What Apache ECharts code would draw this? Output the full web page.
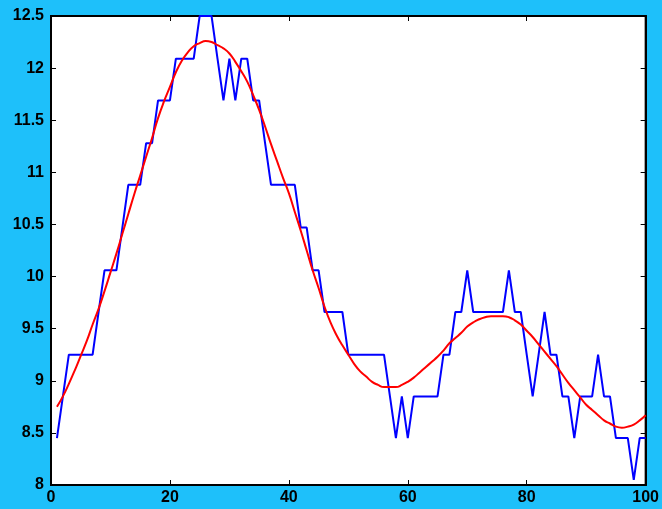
<!DOCTYPE html>
<html>
<head>
<meta charset="utf-8">
<script src="https://cdn.jsdelivr.net/npm/echarts@6/dist/echarts.min.js"></script>
<style>
html,body{margin:0;padding:0;background:#1EC0FA;}
#c{width:662px;height:509px;}
</style>
</head>
<body>
<div id="c"></div>
<script>
var xValues = [1,2,3,4,5,6,7,8,9,10,11,12,13,14,15,16,17,18,19,20,
21,22,23,24,25,26,27,28,29,30,31,32,33,34,35,36,37,38,39,40,
41,42,43,44,45,46,47,48,49,50,51,52,53,54,55,56,57,58,59,60,
61,62,63,64,65,66,67,68,69,70,71,72,73,74,75,76,77,78,79,80,
81,82,83,84,85,86,87,88,89,90,91,92,93,94,95,96,97,98,99,100];

var blueValues = [8.45,8.85,9.25,9.25,9.25,9.25,9.25,9.66,10.06,10.06,
10.06,10.47,10.88,10.88,10.88,11.28,11.28,11.69,11.69,11.69,
12.09,12.09,12.09,12.09,12.5,12.5,12.5,12.09,11.69,12.09,
11.69,12.09,12.09,11.69,11.69,11.28,10.88,10.88,10.88,10.88,
10.88,10.47,10.47,10.06,10.06,9.66,9.66,9.66,9.66,9.25,
9.25,9.25,9.25,9.25,9.25,9.25,8.85,8.45,8.85,8.45,
8.85,8.85,8.85,8.85,8.85,9.25,9.25,9.66,9.66,10.06,
9.66,9.66,9.66,9.66,9.66,9.66,10.06,9.66,9.66,9.25,
8.85,9.25,9.66,9.25,9.25,8.85,8.85,8.45,8.85,8.85,
8.85,9.25,8.85,8.85,8.45,8.45,8.45,8.05,8.45,8.45];

var redValues = [8.75,8.85,8.97,9.10,9.24,9.38,9.54,9.69,9.86,10.04,
10.22,10.41,10.60,10.79,10.97,11.15,11.33,11.52,11.68,11.82,
11.96,12.07,12.15,12.21,12.24,12.26,12.25,12.22,12.19,12.14,
12.06,11.97,11.87,11.74,11.60,11.44,11.27,11.11,10.95,10.80,
10.62,10.44,10.25,10.06,9.89,9.71,9.56,9.44,9.34,9.25,
9.16,9.09,9.04,8.99,8.96,8.94,8.94,8.94,8.96,8.99,
9.03,9.08,9.13,9.18,9.23,9.29,9.36,9.41,9.46,9.52,
9.56,9.59,9.61,9.62,9.62,9.62,9.61,9.58,9.54,9.48,
9.42,9.35,9.28,9.21,9.14,9.06,8.98,8.91,8.84,8.77,
8.72,8.67,8.62,8.59,8.56,8.55,8.56,8.58,8.62,8.67];

var xTicks = [0,20,40,60,80,100];
var yTicks = [8,8.5,9,9.5,10,10.5,11,11.5,12,12.5];

function pairs(xs, ys){ return xs.map(function(x,i){ return [x, ys[i]]; }); }

var chart = echarts.init(document.getElementById('c'), null, {renderer:'canvas'});
var labelFont = {color:'#000', fontSize:16, fontWeight:'bold', fontFamily:'Liberation Sans, Arial, sans-serif'};
chart.setOption({
  backgroundColor:'#1EC0FA',
  animation:false,
  grid:{left:51, right:16, top:16, bottom:24, show:true, backgroundColor:'#fff', borderColor:'#000', borderWidth:2},
  xAxis:[{
    type:'value', min:0, max:100, interval:20, position:'bottom',
    axisLine:{show:true, onZero:false, lineStyle:{color:'#000', width:2}},
    axisTick:{show:true, inside:true, length:5, lineStyle:{color:'#000', width:1}},
    axisLabel:Object.assign({margin:5, formatter:function(v){return String(v);}}, labelFont),
    splitLine:{show:false}
  },{
    type:'value', min:0, max:100, interval:20, position:'top',
    axisLine:{show:true, onZero:false, lineStyle:{color:'#000', width:2}},
    axisTick:{show:true, inside:true, length:5, lineStyle:{color:'#000', width:1}},
    axisLabel:{show:false}, splitLine:{show:false}
  }],
  yAxis:[{
    type:'value', min:8, max:12.5, interval:0.5, position:'left',
    axisLine:{show:true, onZero:false, lineStyle:{color:'#000', width:2}},
    axisTick:{show:true, inside:true, length:5, lineStyle:{color:'#000', width:1}},
    axisLabel:Object.assign({margin:7, formatter:function(v){return String(v);}}, labelFont),
    splitLine:{show:false}
  },{
    type:'value', min:8, max:12.5, interval:0.5, position:'right',
    axisLine:{show:true, onZero:false, lineStyle:{color:'#000', width:2}},
    axisTick:{show:true, inside:true, length:5, lineStyle:{color:'#000', width:1}},
    axisLabel:{show:false}, splitLine:{show:false}
  }],
  series:[{
    type:'line', xAxisIndex:0, yAxisIndex:0, data:pairs(xValues, blueValues),
    showSymbol:false, smooth:false, lineStyle:{color:'#0000FF', width:2}, z:3
  },{
    type:'line', xAxisIndex:0, yAxisIndex:0, data:pairs(xValues, redValues),
    showSymbol:false, smooth:true, lineStyle:{color:'#FF0000', width:2}, z:4
  }]
});
</script>
</body>
</html>
